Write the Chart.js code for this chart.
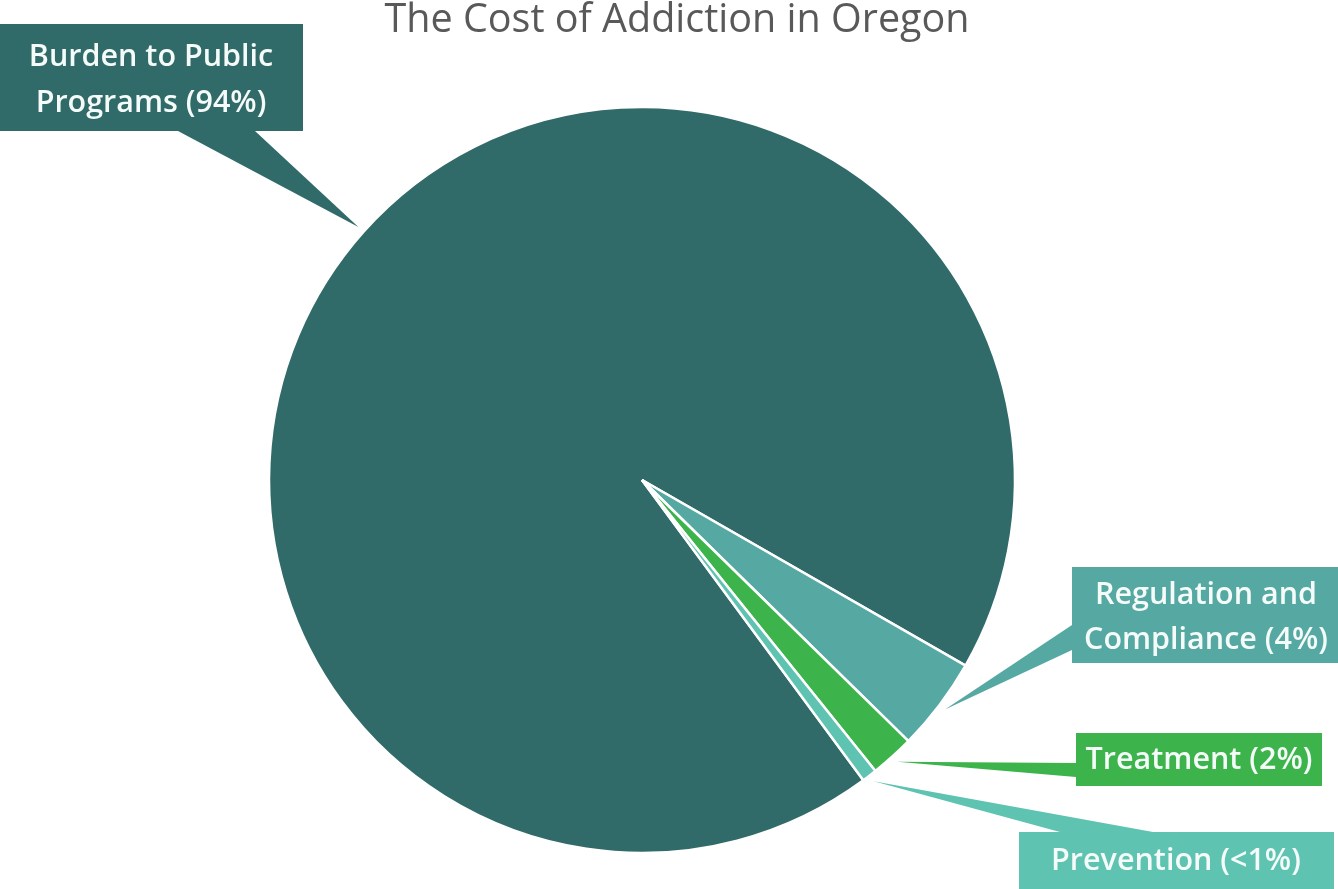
<!DOCTYPE html>
<html>
<head>
<meta charset="utf-8">
<script src="https://cdn.jsdelivr.net/npm/chart.js@4/dist/chart.umd.min.js"></script>
<style>
  html, body { margin: 0; padding: 0; background: #fff; }
  #wrap { width: 1338px; height: 889px; position: relative; }
</style>
</head>
<body>
<div id="wrap"><canvas id="costChart" width="1338" height="889"></canvas></div>
<script>
////// data
const sliceLabels = ["Burden to Public Programs", "Regulation and Compliance", "Treatment", "Prevention"];
const sliceValues = [93.4, 4.05, 1.9, 0.65];
const sliceColors = ["#306b69", "#56a8a2", "#3cb44b", "#5fc3b1"];
const calloutLines = [
    ["Burden to Public", "Programs (94%)"],
    ["Regulation and", "Compliance (4%)"],
    ["Treatment (2%)"],
    ["Prevention (<1%)"]
];
const chartTitle = "The Cost of Addiction in Oregon";

////// where each callout box sits (box + the two base points of its pointer)
const calloutBoxes = [
    { x: 0, y: 24, w: 303, h: 107, textX: 151, lineY: [57, 103], base: [[178, 131], [255, 131]] },
    { x: 1072, y: 567, w: 266, h: 96, textX: 1206, lineY: [595, 640], base: [[1072, 625], [1072, 650]] },
    { x: 1076, y: 733, w: 246, h: 53, textX: 1199, lineY: [760], base: [[1076, 763], [1076, 777]] },
    { x: 1019, y: 832, w: 315, h: 60, textX: 1176, lineY: [861], base: [[1060, 832], [1153, 832]] }
];

const labelFont = "600 30.5px 'Open Sans', Lato, sans-serif";

////////// callouts + title
const calloutPlugin = {
    id: "callouts",
    afterDraw(chart) {
        const ctx = chart.ctx;
        const arcs = chart.getDatasetMeta(0).data;
        ctx.save();

        // title
        ctx.fillStyle = "#595959";
        ctx.font = "39.5px 'Open Sans', Lato, sans-serif";
        ctx.textAlign = "center";
        ctx.textBaseline = "middle";
        ctx.fillText(chartTitle, 677, 21);

        arcs.forEach(function(arc, i) {
            const b = calloutBoxes[i];
            const mid = (arc.startAngle + arc.endAngle) / 2;
            const r = arc.outerRadius + 7;
            const tipX = arc.x + Math.cos(mid) * r;
            const tipY = arc.y + Math.sin(mid) * r;

            ctx.fillStyle = sliceColors[i];
            ctx.beginPath();
            ctx.moveTo(tipX, tipY);
            ctx.lineTo(b.base[0][0], b.base[0][1]);
            ctx.lineTo(b.base[1][0], b.base[1][1]);
            ctx.closePath();
            ctx.fill();

            ctx.fillRect(b.x, b.y, b.w, b.h);

            ctx.fillStyle = "#f4fbf8";
            ctx.font = labelFont;
            ctx.textAlign = "center";
            ctx.textBaseline = "middle";
            calloutLines[i].forEach(function(line, k) {
                ctx.fillText(line, b.textX, b.lineY[k]);
            });
        });
        ctx.restore();
    }
};

const ctx = document.getElementById("costChart").getContext("2d");
new Chart(ctx, {
    type: "pie",
    data: {
        labels: sliceLabels,
        datasets: [{
            data: sliceValues,
            backgroundColor: sliceColors,
            borderColor: "#ffffff",
            borderWidth: 2.5,
            radius: 373,
            rotation: 143.6
        }]
    },
    options: {
        responsive: false,
        animation: false,
        rotation: 143.6,
        radius: 373,
        layout: { padding: { left: 0, right: 54, top: 107, bottom: 36 } },
        plugins: {
            legend: { display: false },
            tooltip: { enabled: false },
            title: { display: false }
        }
    },
    plugins: [calloutPlugin]
});
</script>
</body>
</html>
